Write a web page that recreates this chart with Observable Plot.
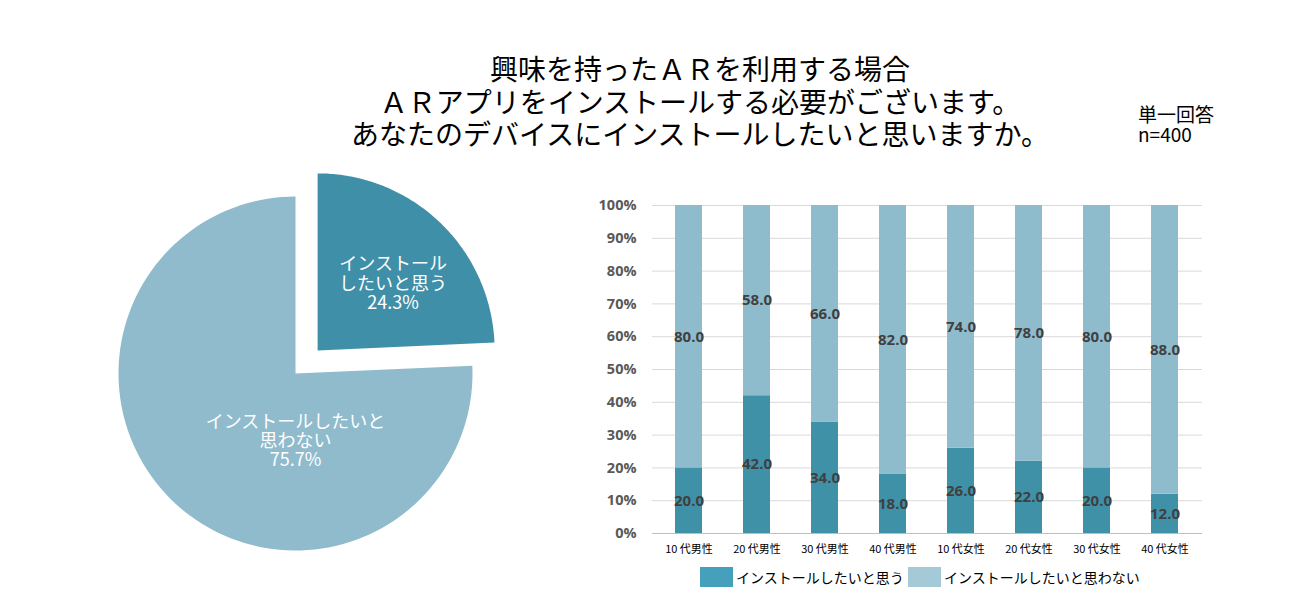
<!DOCTYPE html>
<html><head><meta charset="utf-8">
<script src="https://cdn.jsdelivr.net/npm/d3@7"></script>
<script src="https://cdn.jsdelivr.net/npm/@observablehq/plot@0.6"></script>
<style>
html,body{margin:0;padding:0;background:#fff;}
#root{position:relative;width:1298px;height:599px;overflow:hidden;font-family:"Noto Sans CJK JP","Noto Sans",sans-serif;}
.title{position:absolute;left:250px;width:900px;top:52px;text-align:center;font-size:28px;line-height:32.5px;color:#000;font-weight:400;}
.note{position:absolute;left:1138px;top:104px;font-size:19px;line-height:20px;color:#000;}
#pie{position:absolute;left:0;top:160px;}
#bar{position:absolute;left:560px;top:190px;}
.legend{position:absolute;top:567px;font-size:14px;color:#000;display:flex;align-items:center;}
.sw{display:inline-block;width:33px;height:20px;margin-right:3px;}
</style></head>
<body><div id="root">
<div class="title">興味を持ったＡＲを利用する場合<br>ＡＲアプリをインストールする必要がございます。<br>あなたのデバイスにインストールしたいと思いますか。</div>
<div class="note">単一回答<br>n=400</div>
<div id="pie"></div>
<div id="bar"></div>
<div class="legend" style="left:700px"><span class="sw" style="background:#45A0BC"></span>インストールしたいと思う</div>
<div class="legend" style="left:908px"><span class="sw" style="background:#A5CAD7"></span>インストールしたいと思わない</div>
</div>
<script>
// ---- data ----
const pieLabels = ["インストール\nしたいと思う", "インストールしたいと\n思わない"];
const pieValues = [24.3, 75.7];
const pieColors = ["#3F8FA8", "#8FBBCC"];

const categories = ["10 代男性","20 代男性","30 代男性","40 代男性","10 代女性","20 代女性","30 代女性","40 代女性"];
const seriesNames = ["インストールしたいと思う","インストールしたいと思わない"];
const wantValues = [20.0, 42.0, 34.0, 18.0, 26.0, 22.0, 20.0, 12.0];
const notValues  = [80.0, 58.0, 66.0, 82.0, 74.0, 78.0, 80.0, 88.0];
const barColors = ["#3F91A8", "#8FBCCD"];
const yTicks = [0,10,20,30,40,50,60,70,80,90,100];

// ---- pie ----
const W = 520, H = 420, cx = 295, cy = 213, R = 177, explode = 32;
const arcs = d3.pie().sort(null).startAngle(0).endAngle(2*Math.PI)(pieValues);
const piePts = [], pieText = [];
arcs.forEach((a, i) => {
  const mid = (a.startAngle + a.endAngle) / 2;
  const off = i === 0 ? explode : 0;
  const ox = cx + off*Math.sin(mid), oy = cy - off*Math.cos(mid);
  piePts.push({k:i, x:ox, y:oy});
  const n = 120;
  for (let j = 0; j <= n; j++) {
    const t = a.startAngle + (a.endAngle - a.startAngle)*j/n;
    piePts.push({k:i, x: ox + R*Math.sin(t), y: oy - R*Math.cos(t)});
  }
  piePts.push({k:i, x:ox, y:oy});
  pieText.push({k:i, label: pieLabels[i] + "\n" + pieValues[i].toFixed(1) + "%", mid, ox, oy});
});
// label placement: small slice on bisector, large slice below centre (Excel best-fit)
const lbl = pieText.map(d => d.k === 0
  ? {...d, x: d.ox + 0.6*R*Math.sin(d.mid) + 2, y: d.oy - 0.6*R*Math.cos(d.mid) + 10}
  : {...d, x: d.ox, y: d.oy + 0.38*R});

const pie = Plot.plot({
  width: W, height: H, margin: 0,
  x: {domain:[0,W], range:[0,W], axis:null},
  y: {domain:[0,H], range:[0,H], axis:null},
  marks: [
    Plot.line(piePts, {x:"x", y:"y", z:"k", fill: d => pieColors[d.k], stroke:"none", curve:"linear"}),
    Plot.text(lbl, {x:"x", y:"y", text:"label", fill:"#fff", fontSize:18, lineHeight:1.08,
      fontFamily:"'Noto Sans CJK JP', sans-serif"})
  ]
});
document.getElementById("pie").appendChild(pie);

// ---- bars ----
const rows = [];
categories.forEach((c, i) => {
  rows.push({cat:c, s:seriesNames[0], v:wantValues[i]});
  rows.push({cat:c, s:seriesNames[1], v:notValues[i]});
});
const bar = Plot.plot({
  width: 660, height: 380,
  marginLeft: 92, marginRight: 18, marginTop: 15, marginBottom: 37,
  style: {fontFamily:"'Noto Sans CJK JP','Open Sans',sans-serif", background:"transparent"},
  x: {domain: categories, paddingInner: 0.6, paddingOuter: 0.3, label: null, tickSize: 0, tickPadding: 12},
  y: {domain: [0,100], ticks: yTicks, label: null, tickSize: 0, tickPadding: 16, tickFormat: d => d + "%"},
  color: {domain: seriesNames, range: barColors},
  marks: [
    Plot.ruleY(yTicks.filter(t => t > 0), {stroke:"#D9D9D9", strokeWidth:1}),
    Plot.ruleY([0], {stroke:"#BFBFBF", strokeWidth:1}),
    Plot.barY(rows, Plot.stackY({x:"cat", y:"v", fill:"s", order: seriesNames})),
    Plot.text(rows, Plot.stackY({x:"cat", y:"v", z:"s", order: seriesNames, text: d => d.v.toFixed(1),
      fill:"#404040", fontSize:15, fontWeight:"bold", fontFamily:"'Open Sans','Noto Sans',sans-serif"})),
    Plot.axisY({ticks: yTicks, tickSize:0, tickPadding:16, tickFormat: d => d + "%", fontSize:14.5, fontWeight:"bold",
      fill:"#595959", fontFamily:"'Open Sans','Noto Sans',sans-serif", label:null}),
    Plot.axisX({tickSize:0, tickPadding:12, fontSize:11, fill:"#000", label:null})
  ]
});
document.getElementById("bar").appendChild(bar);
</script>
</body></html>
